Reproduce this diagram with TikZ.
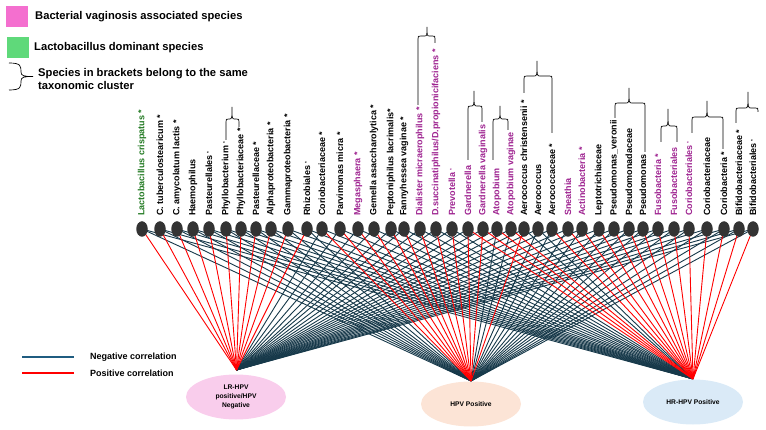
\documentclass[tikz,border=0pt]{standalone}
\usepackage{fontspec}
\setmainfont{Liberation Sans}
\usetikzlibrary{shapes.geometric}
\definecolor{negc}{HTML}{17394A}
\definecolor{negleg}{HTML}{1F5C80}
\definecolor{posc}{HTML}{FF0000}
\definecolor{bvpink}{HTML}{F46FCF}
\definecolor{lbgreen}{HTML}{5FD97A}
\definecolor{purp}{HTML}{9E2390}
\definecolor{grn}{HTML}{237A23}
\definecolor{lrfill}{HTML}{F9CDEC}
\definecolor{hpvfill}{HTML}{FCE4D6}
\definecolor{hrfill}{HTML}{DAEAF7}
\definecolor{nodegray}{HTML}{333333}
\pgfdeclarelayer{bg}
\pgfsetlayers{bg,main}
\newcommand{\sast}{\hspace{2pt}\raisebox{2pt}{\fontsize{4.5}{5}\selectfont *}}
\newcommand{\tbrace}[7]{\draw[bracestyle] (#1,#2) -- (#1,#3+3) .. controls (#1,#3) .. (#1+3,#3) -- (#4-3,#3) .. controls (#4,#3) .. (#4,#5) .. controls (#4,#3) .. (#4+3,#3) -- (#6-3,#3) .. controls (#6,#3) .. (#6,#3+3) -- (#6,#7);}
\begin{document}
\begin{tikzpicture}[x=1pt,y=-1pt,
  taxon/.style={ellipse, fill=nodegray, minimum width=11.5pt, minimum height=15.5pt, inner sep=0pt},
  lbl/.style={rotate=90, anchor=west, inner sep=0pt, font=\fontsize{9}{10}\selectfont\bfseries},
  grp/.style={ellipse, minimum width=100pt, minimum height=45pt, inner sep=0pt, font=\fontsize{6.7}{8.7}\selectfont\bfseries, align=center},
  negline/.style={draw=negc, line width=0.9pt},
  posline/.style={draw=posc, line width=0.9pt},
  bracestyle/.style={draw=black, line width=0.7pt},
  legtext/.style={anchor=west, inner sep=0pt, font=\fontsize{11.2}{13}\selectfont\bfseries, align=left},
  legsmall/.style={anchor=west, inner sep=0pt, font=\fontsize{9}{10}\selectfont\bfseries},
]
\useasboundingbox (0,0) rectangle (766,430);

% top legend
\fill[bvpink] (6,6) rectangle (28,27);
\node[legtext] (lg1) at (35,17) {Bacterial vaginosis associated species};
\fill[lbgreen] (7,37) rectangle (29,58);
\node[legtext] (lg2) at (34,48) {Lactobacillus dominant species};
\draw[bracestyle] (9,63) .. controls (21,63) and (21,66) .. (21,72) .. controls (21,76) and (24,76.5) .. (33,76.5) .. controls (24,76.5) and (21,77) .. (21,81) .. controls (21,87) and (21,90) .. (9,90);
\node[legtext] (lg3) at (38,78.5) {Species in brackets belong to the same\\taxonomic cluster};

% bottom legend
\coordinate (ln1) at (22,357); \coordinate (ln2) at (74,357);
\coordinate (lp1) at (22,373); \coordinate (lp2) at (74,373);
\draw[negleg, line width=1.4pt] (ln1) -- (ln2);
\draw[posc, line width=1.4pt] (lp1) -- (lp2);
\node[legsmall] (lgn) at (90,357) {Negative correlation};
\node[legsmall] (lgp) at (90,373) {Positive correlation};

% taxa
\foreach \x/\t/\c [count=\i] in {
142/{Lactobacillus crispatus *}/grn,
160/{C. tuberculostearicum *}/black,
177/{C. amycolatum lactis *}/black,
193/{Haemophilus}/black,
209/{Pasteurellales\sast}/black,
226/{Phyllobacterium\sast}/black,
241/{Phyllobacteriaceae *}/black,
256/{Pasteurellaceae *}/black,
271/{Alphaproteobacteria *}/black,
288/{Gammaproteobacteria *}/black,
307/{Rhizobiales\sast}/black,
322/{Coriobacteriaceae *}/black,
340/{Parvimonas micra *}/black,
358/{Megasphaera *}/purp,
374/{Gemella asaccharolytica *}/black,
391/{Peptoniphilus lacrimalis*}/black,
404/{Fannyhessea vaginae *}/black,
420/{Dialister micraerophilus *}/purp,
436/{D.succinatiphilus/D.propionicifaciens *}/purp,
452/{Prevotella\sast}/purp,
468/{Gardnerella}/purp,
483/{Gardnerella vaginalis}/purp,
497/{Atopobium}/purp,
511/{Atopobium vaginae}/purp,
524/{Aerococcus christensenii *}/black,
538/{Aerococcus}/black,
552/{Aerococcaceae *}/black,
568/{Sneathia}/purp,
582/{Actinobacteria *}/purp,
599/{Leptotrichiaceae}/black,
614/{Pseudomonas\_veronii}/black,
629/{Pseudomonadaceae}/black,
643/{Pseudomonas}/black,
658/{Fusobacteria *}/purp,
674/{Fusobacteriales}/purp,
689/{Coriobacteriales\sast}/purp,
707/{Coriobacteriaceae}/black,
724/{Coriobacteria *}/black,
739/{Bifidobacteriaceae *}/black,
753/{Bifidobacteriales\sast}/black}
{
  \node[taxon] (n\i) at (\x,229) {};
  \node[lbl, text=\c] (l\i) at (\x,216) {\t};
}

% brackets
\tbrace{226}{140}{119}{232}{107}{239}{127}
\tbrace{418}{105}{36}{427}{27}{435}{43}
\tbrace{468}{160}{106}{474}{91}{482}{122}
\tbrace{493}{160}{119}{500}{106}{508}{130}
\tbrace{524}{93}{76}{537}{61}{552}{133}
\tbrace{615}{118}{103}{629}{88}{645}{152}
\tbrace{661}{142}{126}{668}{109}{677}{142}
\tbrace{692}{133}{117}{707}{101}{723}{149}
\tbrace{736}{123}{108}{748}{92}{758}{112}

% groups
\node[grp, fill=lrfill] (t1) at (236,397) {LR-HPV\\positive/HPV\\Negative};
\node[grp, fill=hpvfill] (t2) at (471,404) {HPV Positive};
\node[grp, fill=hrfill] (t3) at (693,402) {HR-HPV Positive};
\coordinate (c1) at (236.5,370);
\coordinate (c2) at (471,381);
\coordinate (c3) at (693,379);

\begin{pgfonlayer}{bg}
  \foreach \i in {12,...,40} \draw[negline] (n\i.center) -- (c1);
  \foreach \i in {1,...,11,23,24,26,27,...,40} \draw[negline] (n\i.center) -- (c2);
  \foreach \i in {1,...,20,25,26} \draw[negline] (n\i.center) -- (c3);
  \foreach \i in {1,...,11} \draw[posline] (n\i.center) -- (c1);
  \foreach \i in {12,...,22,25} \draw[posline] (n\i.center) -- (c2);
  \foreach \i in {21,...,24,27,28,...,40} \draw[posline] (n\i.center) -- (c3);
\end{pgfonlayer}
\end{tikzpicture}
\end{document}
